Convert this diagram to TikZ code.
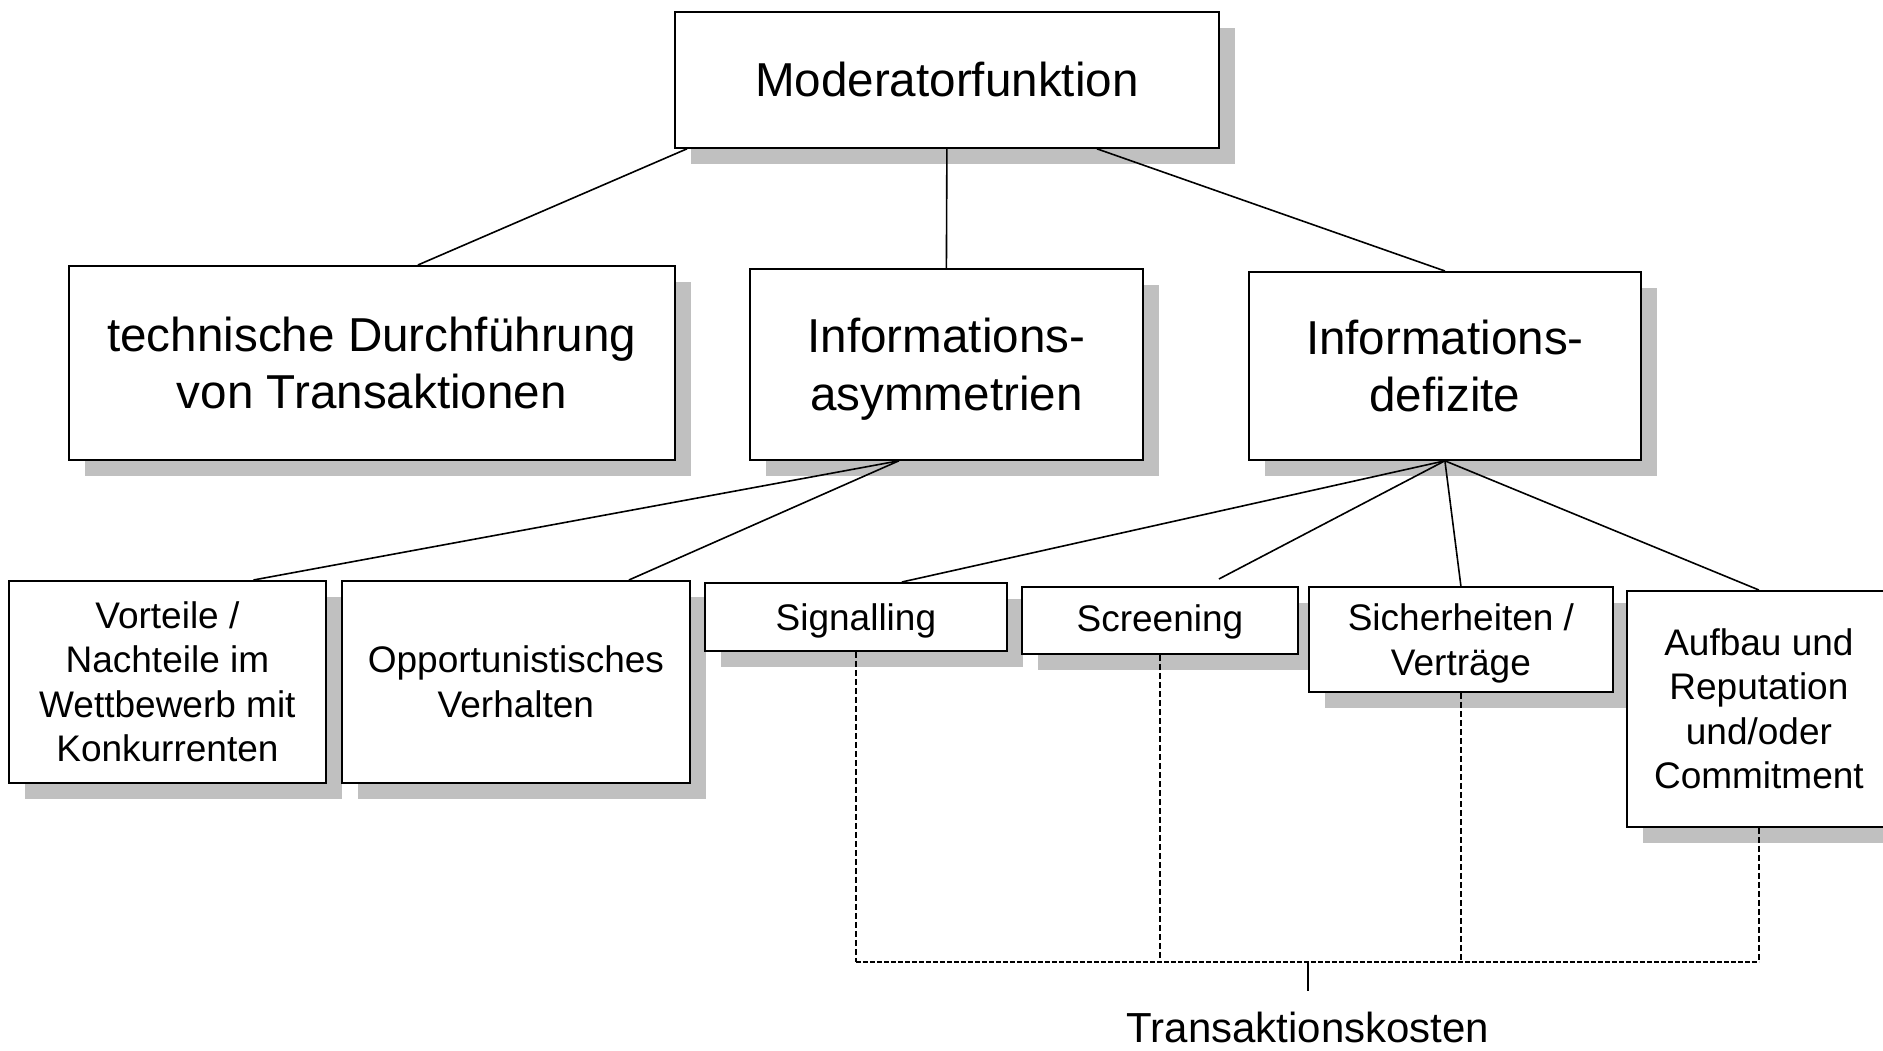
\documentclass[tikz,border=0pt]{standalone}
\usepackage{fontspec}
\setmainfont{Liberation Sans}
\usetikzlibrary{shadows}
\definecolor{shadowgray}{RGB}{192,192,192}
\tikzset{
  box/.style={draw=black, line width=1.8pt, fill=white, anchor=north west, align=center, inner sep=2pt,
    drop shadow={shadow xshift=16pt, shadow yshift=-16pt, fill=shadowgray, opacity=1}},
  bigtext/.style={font=\fontsize{47.6}{57.5}\selectfont},
  smalltext/.style={font=\fontsize{37}{44.5}\selectfont},
  conn/.style={line width=1.6pt},
  dashconn/.style={line width=1.3pt, dash pattern=on 6pt off 3pt},
  dashbar/.style={line width=1.3pt, dash pattern=on 5pt off 2pt}
}
\begin{document}
\begin{tikzpicture}[x=1pt, y=-1pt]
\useasboundingbox (0,0) rectangle (1883,1050);
% top level
\node[box, bigtext, minimum width=544pt, minimum height=136pt] (mod) at (674,11) {Moderatorfunktion};
% second level
\node[box, bigtext, minimum width=606pt, minimum height=194pt] (tech) at (68,265) {technische Durchführung\\von Transaktionen};
\node[box, bigtext, minimum width=393pt, minimum height=191pt, text depth=0pt] (asym) at (749,268) {Informations-\\asymmetrien};
\node[box, bigtext, minimum width=392pt, minimum height=188pt] (defi) at (1248,271) {Informations-\\defizite};
% third level
\node[box, smalltext, minimum width=317pt, minimum height=202pt] (vort) at (8,580) {Vorteile /\\Nachteile im\\Wettbewerb mit\\Konkurrenten};
\node[box, smalltext, minimum width=348pt, minimum height=202pt] (opp) at (341,580) {Opportunistisches\\Verhalten};
\node[box, smalltext, minimum width=302pt, minimum height=68pt, text depth=0pt] (sig) at (704,582) {Signalling};
\node[box, smalltext, minimum width=276pt, minimum height=67pt, text depth=0pt, text height=23pt] (scr) at (1021,586) {Screening};
\node[box, smalltext, minimum width=304pt, minimum height=105pt, text depth=0pt] (sich) at (1308,586) {Sicherheiten /\\Verträge};
\node[box, smalltext, minimum width=264pt, minimum height=236pt] (aufb) at (1626,590) {Aufbau und\\Reputation\\und/oder\\Commitment};
% label
\coordinate (bar) at (1308,962);
\node[font=\fontsize{42}{50}\selectfont, anchor=north, inner xsep=0pt, inner ysep=21pt] (lbl) at (1308,991) {Transaktionskosten};
% connectors level 1 -> 2
\draw[conn] ([xshift=13pt]mod.south west) -- ([xshift=46pt]tech.north);
\draw[conn] (mod.south) -- (asym.north);
\draw[conn] ([xshift=150pt]mod.south) -- (defi.north);
% connectors level 2 -> 3
\draw[conn] ([xshift=-47.5pt]asym.south) -- ([xshift=86pt]vort.north);
\draw[conn] ([xshift=-47.5pt]asym.south) -- ([xshift=113pt]opp.north);
\draw[conn] (defi.south) -- ([xshift=46pt]sig.north);
\draw[conn] (defi.south) -- ([xshift=59pt, yshift=7pt]scr.north);
\draw[conn] (defi.south) -- (sich.north);
\draw[conn] (defi.south) -- (aufb.north);
% dashed collectors
\draw[dashconn] (sig.south) -- (sig.south |- bar);
\draw[dashconn] (scr.south) -- (scr.south |- bar);
\draw[dashconn] (sich.south) -- (sich.south |- bar);
\draw[dashconn] (aufb.south) -- (aufb.south |- bar);
\draw[dashbar] (sig.south |- bar) -- (aufb.south |- bar);
\draw[conn] (bar) -- (lbl.north);
\end{tikzpicture}
\end{document}
